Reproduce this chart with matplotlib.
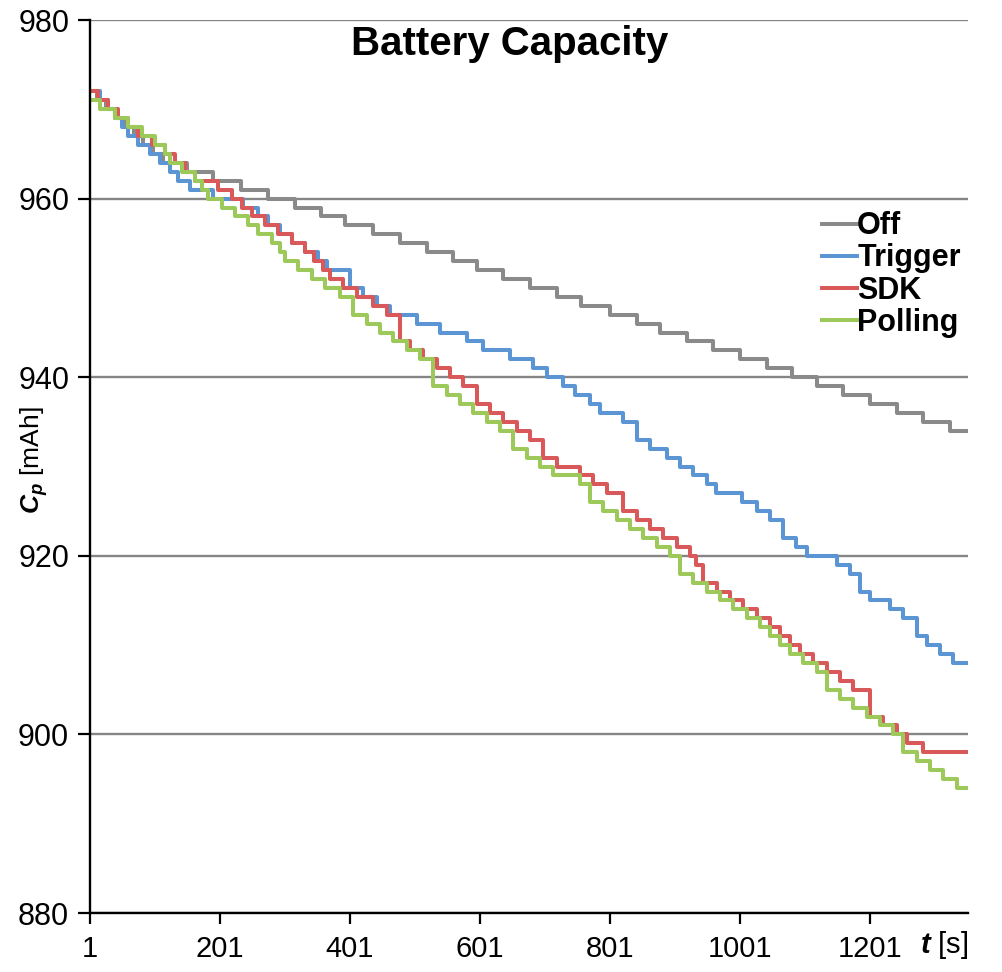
#!/usr/bin/python

#Importing modules:
import numpy as np
import matplotlib
matplotlib.use("Agg")
import matplotlib.pyplot as plt

#Fonts (Arial look-alike):
plt.rcParams['font.family'] = ['Liberation Sans', 'DejaVu Sans']
plt.rcParams['mathtext.fontset'] = 'custom'
plt.rcParams['mathtext.rm'] = 'Liberation Sans'
plt.rcParams['mathtext.it'] = 'Liberation Sans:italic'
plt.rcParams['mathtext.bf'] = 'Liberation Sans:bold'
plt.rcParams['mathtext.bfit'] = 'Liberation Sans:italic:bold'

#Data: time [s] where each level starts, capacity [mAh]
tEnd = 1352

offT = [1, 12, 26, 40, 54, 68, 82, 98, 114, 150, 190, 233, 275, 316, 357, 393,
        436, 478, 519, 559, 596, 636, 678, 719, 757, 801, 843, 878, 919, 960,
        1001, 1042, 1081, 1120, 1159, 1201, 1242, 1283, 1324]
offV = [972, 971, 970, 969, 968, 967, 966, 965, 964, 963, 962, 961, 960, 959,
        958, 957, 956, 955, 954, 953, 952, 951, 950, 949, 948, 947, 946, 945,
        944, 943, 942, 941, 940, 939, 938, 937, 936, 935, 934]

trigT = [1, 16, 29, 40, 50, 60, 75, 93, 109, 124, 137, 155, 190, 236, 259, 275,
         293, 312, 332, 352, 366, 401, 421, 442, 462, 504, 539, 581, 606, 647,
         683, 704, 729, 748, 770, 786, 821, 843, 863, 889, 909, 929, 950, 965,
         1005, 1027, 1047, 1067, 1088, 1104, 1150, 1170, 1186, 1201, 1232,
         1252, 1273, 1289, 1309, 1329]
trigV = [972, 971, 970, 969, 968, 967, 966, 965, 964, 963, 962, 961, 960, 959,
         958, 957, 956, 955, 954, 953, 952, 950, 949, 948, 947, 946, 945, 944,
         943, 942, 941, 940, 939, 938, 937, 936, 935, 933, 932, 931, 930, 929,
         928, 927, 926, 925, 924, 922, 921, 920, 919, 918, 916, 915, 914, 913,
         911, 910, 909, 908]

sdkT = [1, 14, 29, 44, 59, 75, 96, 116, 132, 147, 163, 198, 219, 235, 250, 270,
        290, 312, 332, 345, 359, 370, 390, 412, 436, 458, 478, 493, 513, 535,
        555, 575, 596, 616, 636, 658, 678, 698, 719, 755, 775, 796, 821, 842,
        863, 883, 904, 924, 934, 944, 966, 986, 1006, 1027, 1047, 1063, 1078,
        1093, 1113, 1135, 1155, 1175, 1201, 1221, 1242, 1258, 1283]
sdkV = [972, 971, 970, 969, 968, 967, 966, 965, 964, 963, 962, 961, 960, 959,
        958, 957, 956, 955, 954, 953, 952, 951, 950, 949, 948, 947, 944, 943,
        942, 941, 940, 939, 937, 936, 935, 934, 933, 931, 930, 929, 928, 927,
        925, 924, 923, 922, 921, 920, 919, 917, 916, 915, 914, 913, 912, 911,
        910, 909, 908, 907, 906, 905, 902, 901, 900, 899, 898]

pollT = [1, 16, 40, 59, 81, 101, 116, 124, 142, 163, 173, 182, 204, 224, 244,
         259, 281, 293, 301, 321, 342, 362, 386, 406, 427, 447, 467, 489, 509,
         529, 550, 570, 590, 612, 632, 652, 673, 693, 713, 755, 770, 790, 812,
         832, 852, 873, 893, 909, 929, 950, 970, 990, 1012, 1032, 1047, 1063,
         1078, 1098, 1120, 1135, 1155, 1175, 1196, 1216, 1236, 1252, 1273,
         1293, 1313, 1335]
pollV = [971, 970, 969, 968, 967, 966, 965, 964, 963, 962, 961, 960, 959, 958,
         957, 956, 955, 954, 953, 952, 951, 950, 949, 947, 946, 945, 944, 943,
         942, 939, 938, 937, 936, 935, 934, 932, 931, 930, 929, 928, 926, 925,
         924, 923, 922, 921, 920, 918, 917, 916, 915, 914, 913, 912, 911, 910,
         909, 908, 907, 905, 904, 903, 902, 901, 900, 898, 897, 896, 895, 894]

seriesNames = ['Off', 'Trigger', 'SDK', 'Polling']
seriesColors = ['#8a8a8a', '#5b95d3', '#d9585a', '#9dc85a']
xTicks = [1, 201, 401, 601, 801, 1001, 1201]
yTicks = [880, 900, 920, 940, 960, 980]

#Creating the figure:
fig = plt.figure(figsize=(10.02, 9.72), dpi=100)
ax = fig.add_axes([90/1002, 1 - 913/972, 878/1002, 893/972])

#Plotting each series as a staircase:
allData = [(offT, offV), (trigT, trigV), (sdkT, sdkV), (pollT, pollV)]
for (t, v), name, col in zip(allData, seriesNames, seriesColors):
    ax.step(np.append(t, tEnd), np.append(v, v[-1]), where='post',
            color=col, lw=2.9, label=name)

#Axes, grid and ticks:
ax.set_xlim(1, tEnd)
ax.set_ylim(880, 980)
ax.set_xticks(xTicks)
ax.set_yticks(yTicks)
ax.yaxis.grid(True, color='#858585', lw=1.7)
ax.set_axisbelow(True)
for s in ['top', 'right']:
    ax.spines[s].set_visible(False)
for s in ['left', 'bottom']:
    ax.spines[s].set_linewidth(1.7)
ax.tick_params(axis='y', direction='out', length=9, width=1.6, labelsize=22, pad=6)
ax.tick_params(axis='x', direction='out', length=8, width=1.6, labelsize=21, pad=8)

#Texts:
fig.text(510/1002, 1 - 44/972, 'Battery Capacity', ha='center', va='center',
         fontsize=29, fontweight='bold')
fig.text(34/1002, 1 - 460/972, r'$\mathbfit{C}_{\mathbfit{p}}$ [mAh]',
         rotation=90, ha='center', va='center', fontsize=19)
fig.text(968/1002, 1 - 945/972, r'$\mathbfit{t}$ [s]', ha='right',
         va='center', fontsize=21)

#Legend:
ax.legend(loc='upper right', bbox_to_anchor=(976/1002, 1 - 196/972),
          bbox_transform=fig.transFigure, frameon=False, handlelength=1.15,
          handletextpad=0.0, labelspacing=0.07, borderpad=0,
          prop={'weight': 'bold', 'size': 22})

fig.savefig('out.png', dpi=100)
